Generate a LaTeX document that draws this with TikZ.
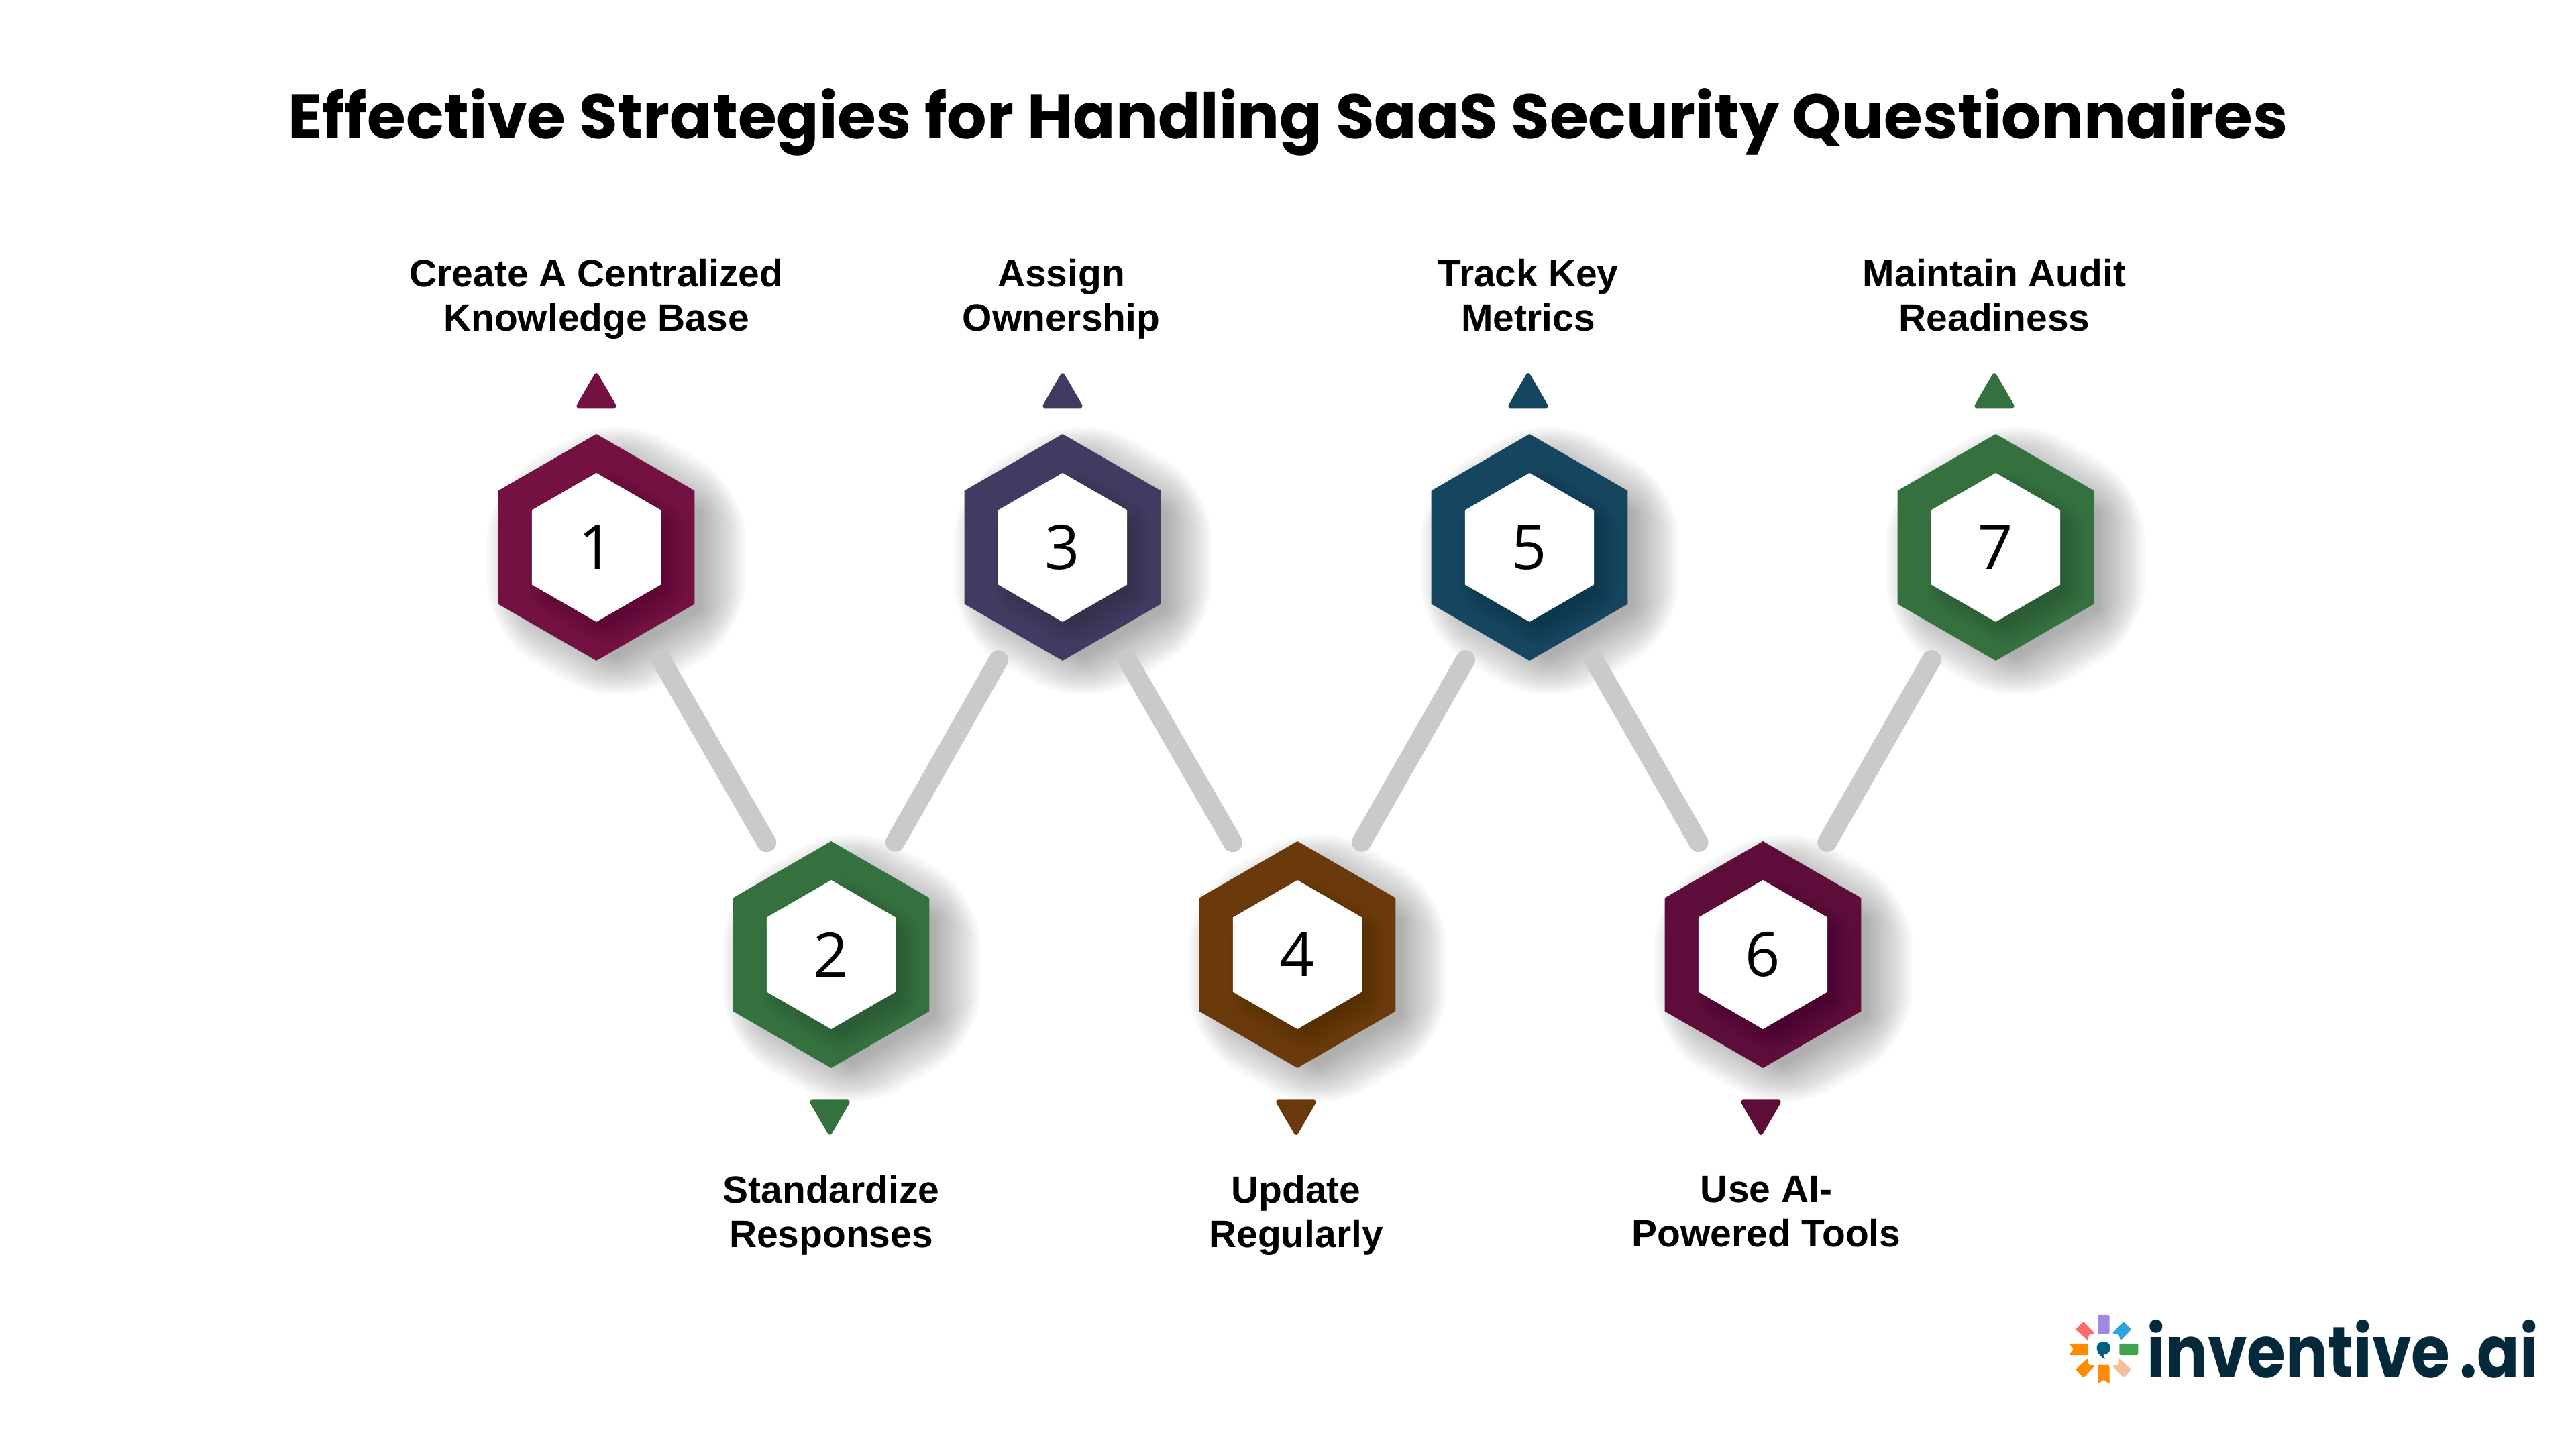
\documentclass[tikz,border=0pt]{standalone}
\usepackage{graphicx}
\usepackage{fontspec}
\setmainfont{Liberation Sans}
\newfontfamily\titlefont{Poppins}
\newfontfamily\digitfont{Open Sans}
\usetikzlibrary{shapes.geometric}
\definecolor{maroon}{HTML}{721142}
\definecolor{indigo}{HTML}{433A61}
\definecolor{navy}{HTML}{164560}
\definecolor{forest}{HTML}{35703F}
\definecolor{umber}{HTML}{6B3A0C}
\definecolor{plum}{HTML}{5E0D3A}
\definecolor{linkgray}{HTML}{CACACA}
\definecolor{logoink}{HTML}{04293A}
\definecolor{logoteal}{HTML}{045F7F}
\definecolor{logopurple}{HTML}{A288E3}
\definecolor{logogreen}{HTML}{43A04F}
\definecolor{logoorange}{HTML}{FF8C00}
\definecolor{logored}{HTML}{FF6B6B}
\definecolor{logoblue}{HTML}{2FA4DC}
\definecolor{logopeach}{HTML}{F4C09A}
\begin{document}
\begin{tikzpicture}[
    hexa/.style={regular polygon, regular polygon sides=6, shape border rotate=30, inner sep=0pt, outer sep=0pt},
    blurry/.style={hexa, fill=black, fill opacity=#1},
    ring/.style={hexa, minimum size=3.38cm, fill=#1},
    core/.style={hexa, minimum size=2.22cm, fill=white, text=black, font=\digitfont\fontsize{26}{26}\selectfont},
    link/.style={draw=linkgray, line width=0.29cm, line cap=round, shorten >=1.93cm, shorten <=1.93cm},
    marker/.style={regular polygon, regular polygon sides=3, minimum size=0.62cm, inner sep=0pt, outer sep=0pt, fill=#1, draw=#1, line width=0.06cm, line join=round},
    step label/.style={align=center, inner sep=0pt, font=\fontsize{16.2}{18.8}\selectfont\bfseries, execute at begin node=\strut, execute at end node=\strut},
    petal/.style={fill=#1, rounded corners=0.02cm}
]
    \useasboundingbox (0, 0) rectangle (38.4, 21.6);

    \node[font=\titlefont\fontsize{26.6}{32}\selectfont\bfseries] (title) at (19.2, 19.78) {Effective Strategies for Handling SaaS Security Questionnaires};

    \foreach \n/\x/\y/\c in {1/8.89/13.44/maroon, 2/12.39/7.37/forest, 3/15.84/13.44/indigo, 4/19.34/7.37/umber, 5/22.80/13.44/navy, 6/26.28/7.37/plum, 7/29.75/13.44/forest} {
        \foreach \s in {0,...,23} {
            \node[blurry=0.014, rounded corners={\s*0.035cm}, minimum size={2.9cm+\s*0.068cm}] (shade\n-\s) at (\x+0.3, \y-0.2) {};
        }
        \node[ring=\c] (h\n) at (\x, \y) {};
        \foreach \s in {0,...,9} {
            \node[blurry=0.014, rounded corners={\s*0.03cm}, minimum size={2.0cm+\s*0.08cm}] (inner\n-\s) at (\x+0.15, \y-0.15) {};
        }
        \node[core] (c\n) at (\x, \y) {\n};
    }

    \draw[link] (h1.center) -- (h2.center);
    \draw[link] (h2.center) -- (h3.center);
    \draw[link] (h3.center) -- (h4.center);
    \draw[link] (h4.center) -- (h5.center);
    \draw[link] (h5.center) -- (h6.center);
    \draw[link] (h6.center) -- (h7.center);

    \node[marker=maroon] (m1) at (8.89, 15.70) {};
    \node[marker=forest, shape border rotate=180] (m2) at (12.37, 5.02) {};
    \node[marker=indigo] (m3) at (15.84, 15.70) {};
    \node[marker=umber, shape border rotate=180] (m4) at (19.32, 5.02) {};
    \node[marker=navy] (m5) at (22.78, 15.70) {};
    \node[marker=plum, shape border rotate=180] (m6) at (26.25, 5.02) {};
    \node[marker=forest] (m7) at (29.73, 15.70) {};

    \node[step label] (t1) at (8.89, 17.10) {Create A Centralized\\Knowledge Base};
    \node[step label] (t2) at (12.39, 3.44) {Standardize\\Responses};
    \node[step label] (t3) at (15.82, 17.10) {Assign\\Ownership};
    \node[step label] (t4) at (19.32, 3.44) {Update\\Regularly};
    \node[step label] (t5) at (22.78, 17.10) {Track Key\\Metrics};
    \node[step label] (t6) at (26.33, 3.44) {Use AI-\\Powered Tools};
    \node[step label] (t7) at (29.73, 17.10) {Maintain Audit\\Readiness};

    % logo
    \node[anchor=base west, inner sep=0pt, text=logoink, font=\titlefont\fontsize{30.6}{31}\selectfont\bfseries] (logo) at (32.0, 1.06) {\scalebox{0.87}[1]{\spaceskip=.15em inventive .ai}};
    \begin{scope}[shift={(30.4, 2.4)}, x=0.004975cm, y=-0.003333cm]
        \fill[petal=logopurple] (175,120) -- (210,120) -- (210,205) -- (175,205) -- cycle;
        \fill[petal=logogreen] (240,249) -- (296,249) -- (296,301) -- (240,301) -- cycle;
        \fill[petal=logoorange] (175,345) -- (210,345) -- (210,430) -- (192,410) -- (175,430) -- cycle;
        \fill[petal=logoorange] (88,249) -- (146,249) -- (146,301) -- (88,301) -- (103,275) -- cycle;
        \fill[petal=logored] (132,150) -- (167,203) -- (148,207) -- (146,236) -- (108,185) -- cycle;
        \fill[petal=logoblue] (252,150) -- (276,185) -- (243,236) -- (238,207) -- (218,203) -- cycle;
        \fill[petal=logoorange] (146,315) -- (146,345) -- (167,347) -- (132,402) -- (108,365) -- cycle;
        \fill[petal=logopeach] (238,315) -- (276,365) -- (252,402) -- (218,347) -- (238,345) -- cycle;
        \fill[logoteal] (192,240) .. controls (204,240) and (213,252) .. (213,268) .. controls (213,285) and (205,298) .. (192,300) .. controls (193,306) and (195,312) .. (197,318) .. controls (185,312) and (172,290) .. (172,268) .. controls (172,252) and (180,240) .. (192,240) -- cycle;
    \end{scope}
\end{tikzpicture}
\end{document}
